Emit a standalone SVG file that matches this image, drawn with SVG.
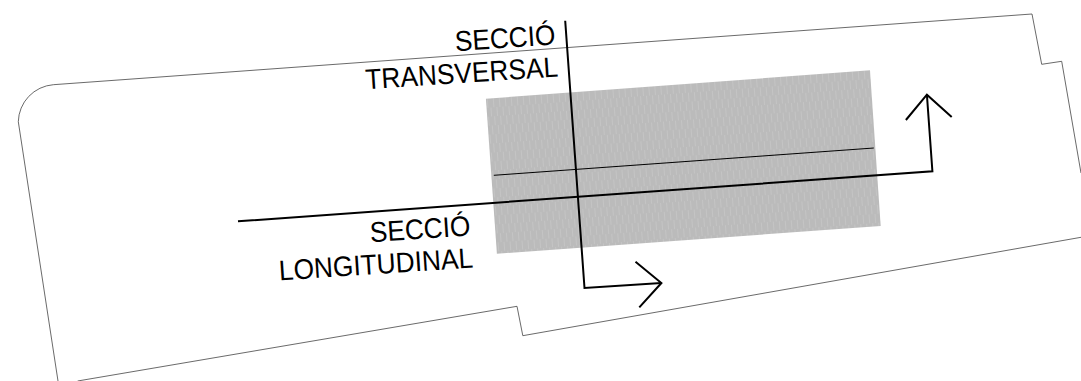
<svg xmlns="http://www.w3.org/2000/svg" width="1081" height="381" viewBox="0 0 1081 381">
<style>
.o{fill:none;stroke:#444;stroke-width:.8}
.c{fill:none;stroke:#000;stroke-width:2}
.t{fill:none;stroke:#000;stroke-width:1}
text{font-family:"Liberation Sans",Arial,sans-serif;font-size:26.3px;fill:#000;text-anchor:end;text-rendering:geometricPrecision}
</style>
<defs><pattern id="h" width="6" height="18" patternUnits="userSpaceOnUse" patternTransform="rotate(-4.3)">
<rect width="6" height="18" fill="#bbb"/><path d="M1.5 0V9M4.5 9V18" stroke="#c4c4c4" stroke-width="1"/></pattern></defs>
<rect width="1081" height="381" fill="#fff"/>
<g id="plot"><path class="o" d="M1081 237.3L522.8 335.7L517 306.3L77.6 381M58 381L18.3 121.7A38 38 0 0 1 53.4 84.7L1032 14L1041.7 64.3L1061.7 61.3L1081 173"/></g>
<g id="building"><polygon points="485.9,98.7 870,70.3 880.7,226 496.9,253.7" fill="url(#h)"/></g>
<g id="connectors">
<path class="t" d="M493.8 175.3L873.8 148"/>
<path class="c" d="M238 221.3L932.4 171.3L926.9 94.7"/>
<path class="c" d="M905.9 120L926.9 94.7L951.7 117"/>
<path class="c" d="M565.2 20.7L584.5 288L661.4 283"/>
<path class="c" d="M635.5 261.7L661.4 283L639.3 307.3"/>
</g>
<g id="labels">
<text transform="translate(556 44.5) rotate(-3.8) scale(1 1.08)">SECCIÓ</text>
<text transform="translate(558.5 76.5) rotate(-3.8) scale(1 1.08)">TRANSVERSAL</text>
<text transform="translate(471 235.5) rotate(-3.8) scale(1 1.08)">SECCIÓ</text>
<text transform="translate(473.5 267.5) rotate(-3.8) scale(1 1.08)">LONGITUDINAL</text>
</g>
</svg>
